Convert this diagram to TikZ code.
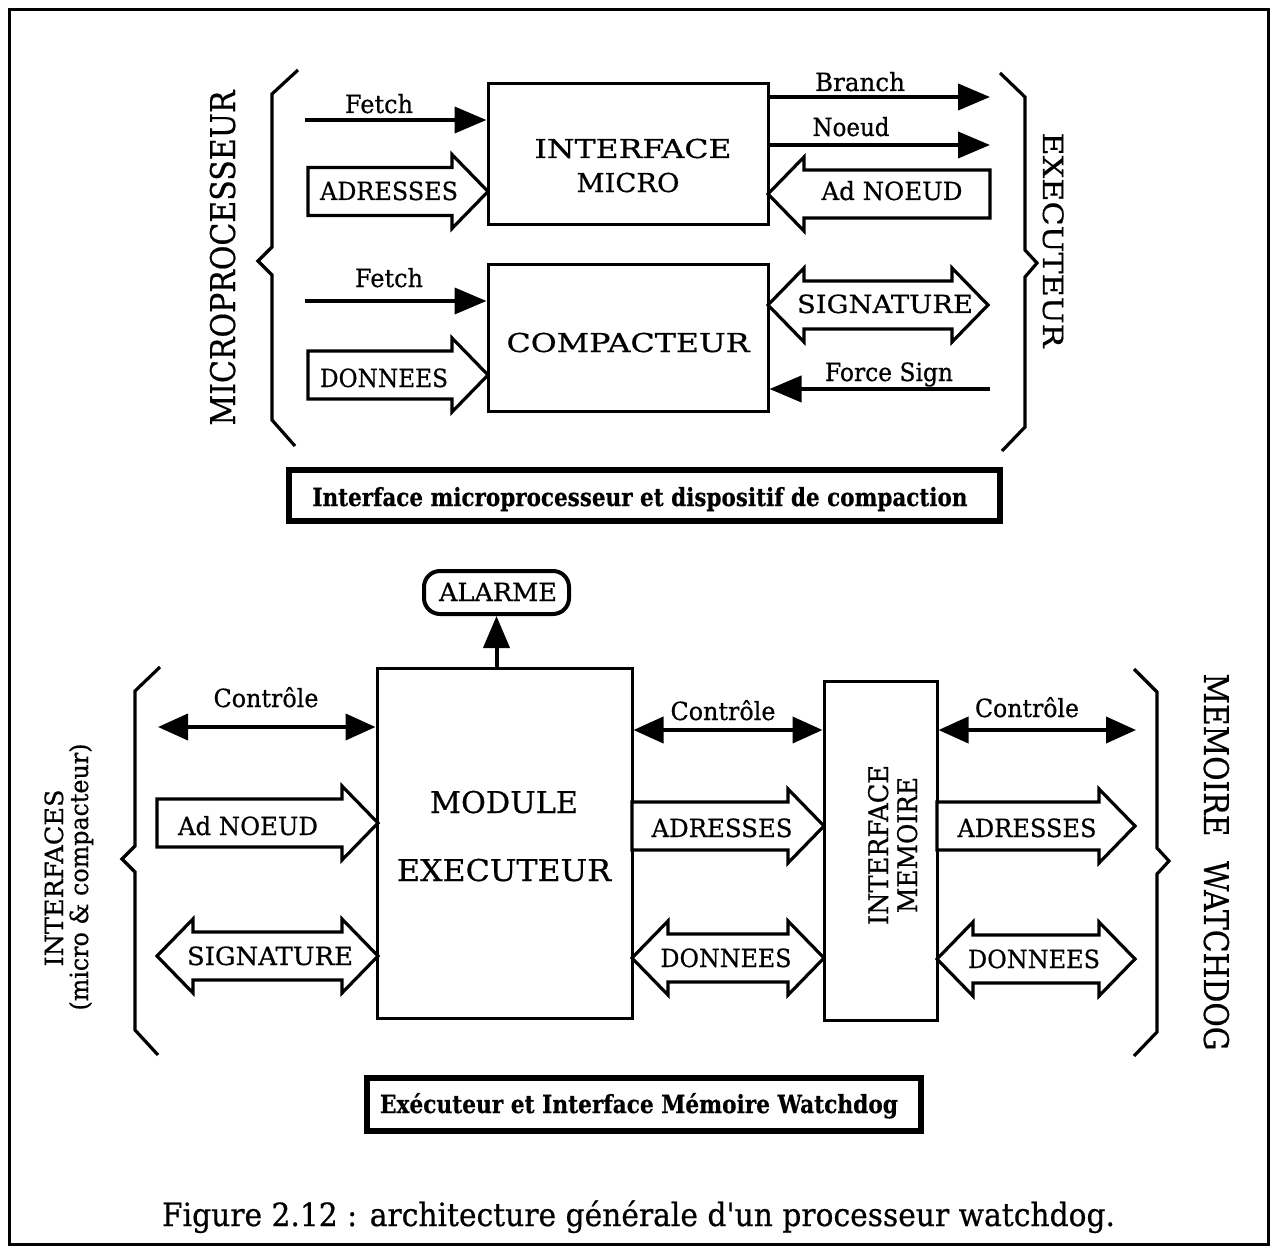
\documentclass[tikz,border=0pt]{standalone}
\usepackage{fontspec}
\setmainfont{DejaVu Serif}[FakeBold=0.6]
\usetikzlibrary{arrows.meta,calc}
\newcommand\tw[2]{\resizebox{#1}{\height}{#2}}
\newcommand\fs[1]{\fontsize{#1}{#1}\selectfont}
\def\bh{24}\def\hh{37}\def\hl{36}
% right-pointing hollow arrow: tail x, tip x, y
\newcommand\harR[3]{\draw[hol] (#1,{#3-\bh}) -- ({#2-\hl},{#3-\bh}) -- ({#2-\hl},{#3-\hh}) -- (#2,#3) -- ({#2-\hl},{#3+\hh}) -- ({#2-\hl},{#3+\bh}) -- (#1,{#3+\bh}) -- cycle;}
% left-pointing hollow arrow: tip x, tail x, y
\newcommand\harL[3]{\draw[hol] (#2,{#3-\bh}) -- ({#1+\hl},{#3-\bh}) -- ({#1+\hl},{#3-\hh}) -- (#1,#3) -- ({#1+\hl},{#3+\hh}) -- ({#1+\hl},{#3+\bh}) -- (#2,{#3+\bh}) -- cycle;}
% double hollow arrow: left tip, right tip, y
\newcommand\harD[3]{\draw[hol] (#1,#3) -- ({#1+\hl},{#3-\hh}) -- ({#1+\hl},{#3-\bh}) -- ({#2-\hl},{#3-\bh}) -- ({#2-\hl},{#3-\hh}) -- (#2,#3) -- ({#2-\hl},{#3+\hh}) -- ({#2-\hl},{#3+\bh}) -- ({#1+\hl},{#3+\bh}) -- ({#1+\hl},{#3+\hh}) -- cycle;}
\begin{document}
\begin{tikzpicture}[x=0.5pt,y=-0.5pt,
  box/.style={draw,line width=1.5pt,inner sep=0pt},
  titlebox/.style={draw,line width=2.6pt,inner sep=0pt},
  hol/.style={draw,line width=1.6pt,fill=white,line join=miter},
  brace/.style={line width=1.6pt,line join=miter},
  arr/.style={line width=2pt,-{Triangle[length=16pt,width=13pt]}},
  darr/.style={line width=2pt,{Triangle[length=15pt,width=13pt]}-{Triangle[length=15pt,width=13pt]}},
  lbl/.style={anchor=base,inner sep=0pt,font=\fs{12.5}},
]
\useasboundingbox (0,0) rectangle (1271,1247);
\draw[line width=1.5pt] (9,10) rectangle (1268,1244);

% ---------- top part ----------
\node[box,minimum width=140pt,minimum height=70.5pt] (im) at (628,154.5) {};
\node[box,minimum width=140pt,minimum height=73pt] (cp) at (628,338) {};

\node[lbl,font=\fs{13}] (t-int) at (633,158) {\tw{98.5pt}{INTERFACE}};
\node[lbl,font=\fs{13}] (t-mic) at (628,192) {\tw{51.5pt}{MICRO}};
\node[lbl,font=\fs{13}] (t-cmp) at (628,352) {\tw{121.5pt}{COMPACTEUR}};

\coordinate (f1) at (305,120);
\draw[arr] (f1) -- (f1 -| im.west);
\node[lbl] (l-f1) at (379,113) {\tw{34pt}{Fetch}};
\harR{308}{488}{191.5}
\node[lbl] (l-ad1) at (389,200) {\tw{69pt}{ADRESSES}};

\coordinate (f2) at (305,301);
\draw[arr] (f2) -- (f2 -| cp.west);
\node[lbl] (l-f2) at (389,287) {\tw{34pt}{Fetch}};
\harR{308}{488}{375}
\node[lbl] (l-do1) at (384,387) {\tw{64pt}{DONNEES}};

\coordinate (br) at (990,97);
\draw[arr] (br -| im.east) -- (br);
\node[lbl] (l-br) at (860,91) {\tw{45pt}{Branch}};
\coordinate (no) at (990,145);
\draw[arr] (no -| im.east) -- (no);
\node[lbl] (l-no) at (851,136) {\tw{38.5pt}{Noeud}};
\harL{768}{990}{194}
\node[lbl] (l-an1) at (892,200) {\tw{70.5pt}{Ad NOEUD}};

\harD{768}{988}{305}
\node[lbl] (l-si1) at (885,313) {\tw{88pt}{SIGNATURE}};
\coordinate (fo) at (990,389);
\draw[arr] (fo) -- (fo -| cp.east);
\node[lbl] (l-fo) at (889,381) {\tw{64pt}{Force Sign}};

\draw[brace] (298,70) -- (272,94) -- (272,247) -- (258,261) -- (272,275) -- (272,420) -- (295,446);
\draw[brace] (1000,73) -- (1025,97) -- (1025,250) -- (1037,263) -- (1025,277) -- (1025,427) -- (1002,451);

\node[lbl,font=\fs{17},rotate=90] (t-micro) at (235,258) {\tw{167.5pt}{MICROPROCESSEUR}};
\node[lbl,font=\fs{14},rotate=-90] (t-exe) at (1043,240) {\tw{107.5pt}{EXECUTEUR}};

\node[titlebox,minimum width=355.5pt,minimum height=25.5pt] (tb1) at (644.5,495.5) {};
\node[lbl,font=\fs{12.5}\bfseries] (t-tb1) at (640,506) {\tw{327.5pt}{Interface microprocesseur et dispositif de compaction}};

% ---------- bottom part ----------
\node[draw,line width=2pt,rounded corners=8pt,minimum width=72.5pt,minimum height=21.5pt,inner sep=0pt] (al) at (496.5,592.5) {};
\node[lbl] (t-al) at (498,601) {\tw{59pt}{ALARME}};
\node[box,minimum width=127.5pt,minimum height=175pt] (mod) at (504.5,843) {};
\node[box,minimum width=56.5pt,minimum height=169.5pt] (imem) at (880.5,850.5) {};
\draw[arr] (mod.north -| al.south) -- (al.south);

\node[lbl,font=\fs{15}] (t-mod) at (504,813) {\tw{74pt}{MODULE}};
\node[lbl,font=\fs{15}] (t-exm) at (504,881) {\tw{107pt}{EXECUTEUR}};

\coordinate (c1) at (158,727);
\draw[darr] (c1) -- (c1 -| mod.west);
\node[lbl] (l-c1) at (266,707) {\tw{52.5pt}{Contr\^ole}};
\harR{157}{378}{823}
\node[lbl] (l-an2) at (248,835) {\tw{70pt}{Ad NOEUD}};
\harD{157}{378}{956}
\node[lbl] (l-si2) at (270,965) {\tw{83pt}{SIGNATURE}};

\coordinate (c2) at (700,730);
\draw[darr] (c2 -| mod.east) -- (c2 -| imem.west);
\node[lbl] (l-c2) at (723,720) {\tw{52.5pt}{Contr\^ole}};
\harR{632}{824}{826}
\node[lbl] (l-ad2) at (722,837) {\tw{70.5pt}{ADRESSES}};
\harD{632}{824}{958}
\node[lbl] (l-do2) at (726,967) {\tw{65.5pt}{DONNEES}};

\node[lbl,font=\fs{13.5},rotate=90] (t-imi) at (888,845) {\tw{80pt}{INTERFACE}};
\node[lbl,font=\fs{13.5},rotate=90] (t-imm) at (917,845) {\tw{68pt}{MEMOIRE}};

\coordinate (c3) at (1136,730);
\draw[darr] (c3 -| imem.east) -- (c3);
\node[lbl] (l-c3) at (1027,717) {\tw{52pt}{Contr\^ole}};
\harR{937}{1135}{826}
\node[lbl] (l-ad3) at (1027,837) {\tw{69.5pt}{ADRESSES}};
\harD{937}{1135}{959}
\node[lbl] (l-do3) at (1034,968) {\tw{66pt}{DONNEES}};

\draw[brace] (160,667) -- (135,691) -- (135,846) -- (122,859) -- (135,872) -- (135,1030) -- (158,1055);
\draw[brace] (1134,669) -- (1157,692) -- (1157,848) -- (1169,861) -- (1157,874) -- (1157,1032) -- (1134,1056);

\node[lbl,rotate=90] (t-ifs) at (63,878) {\tw{88.5pt}{INTERFACES}};
\node[lbl,rotate=90] (t-mc) at (88,877) {\tw{133.5pt}{(micro \& compacteur)}};
\node[lbl,font=\fs{17},rotate=-90] (t-mw) at (1204,862) {\tw{188.5pt}{MEMOIRE\hspace{14pt}WATCHDOG}};

\node[titlebox,minimum width=277pt,minimum height=26.5pt] (tb2) at (644,1104.5) {};
\node[lbl,font=\fs{12.5}\bfseries] (t-tb2) at (639,1113) {\tw{259pt}{Ex\'ecuteur et Interface M\'emoire Watchdog}};

\node[lbl,font=\fs{16}] (cap) at (638.5,1226) {\tw{476.5pt}{Figure 2.12 : architecture g\'en\'erale d\textquotesingle un processeur watchdog.}};
\end{tikzpicture}
\end{document}
